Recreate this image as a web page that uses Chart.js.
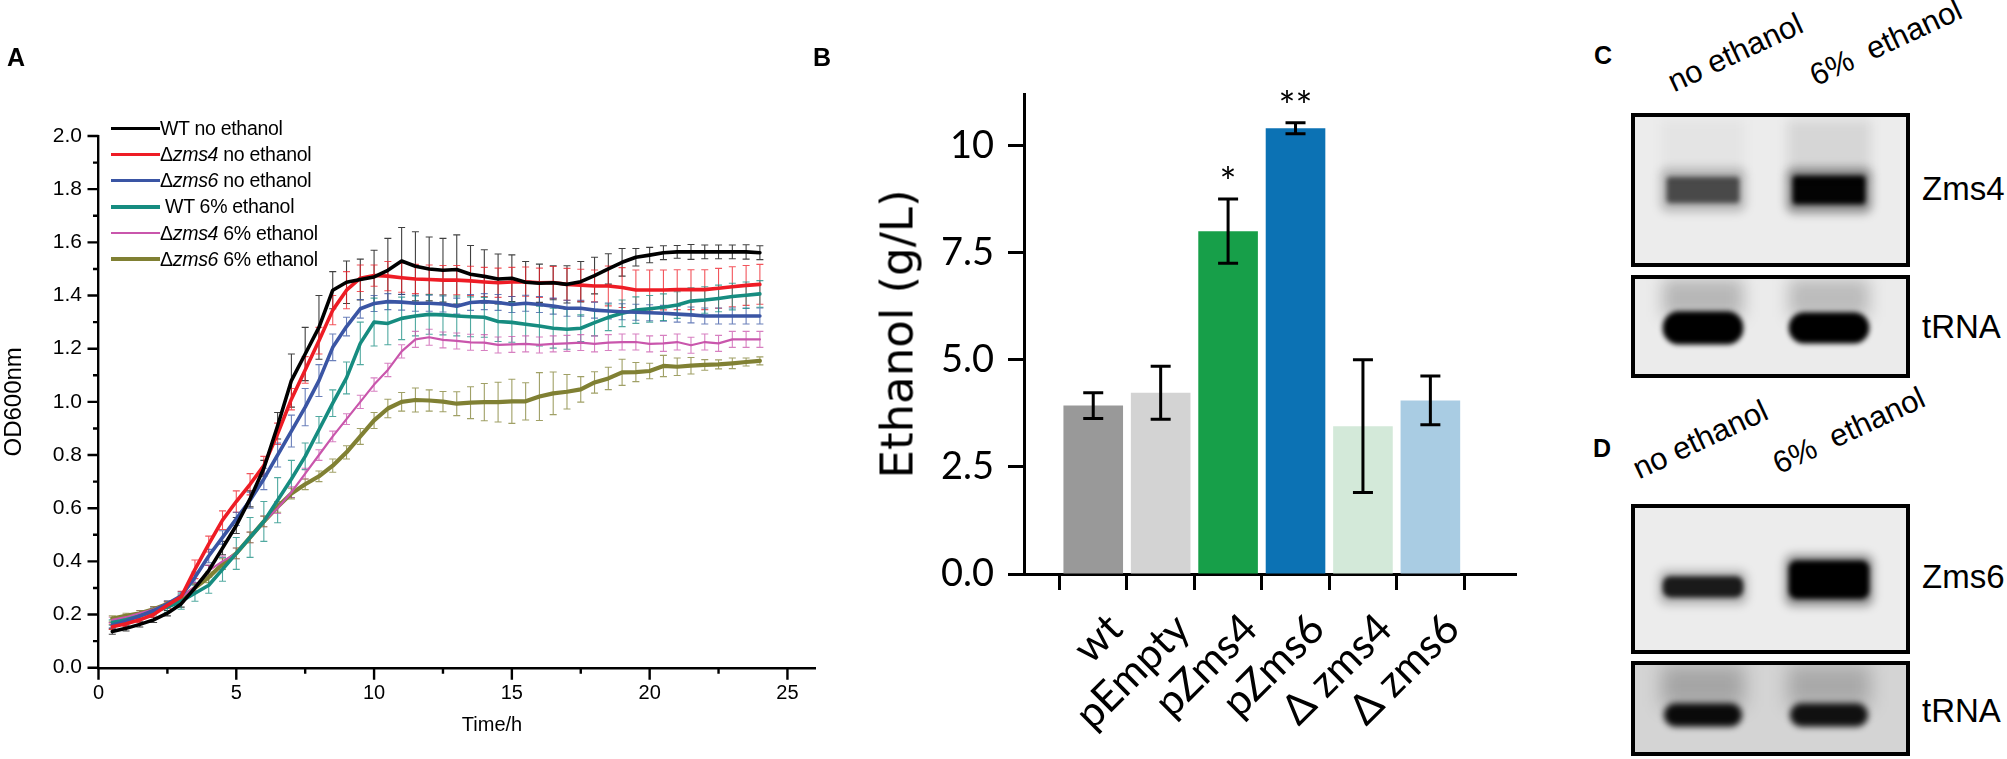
<!DOCTYPE html>
<html>
<head>
<meta charset="utf-8">
<title>Growth curves, ethanol production and blots</title>
<script src="https://cdn.jsdelivr.net/npm/chart.js@4.4.1/dist/chart.umd.min.js"></script>
<style>
  html, body { margin:0; padding:0; background:#fff; }
  body { width:2007px; height:759px; position:relative; overflow:hidden; font-family:"Liberation Sans", Arial, sans-serif; color:#000; }
  canvas { position:absolute; display:block; }
  .panel-letter { position:absolute; font-weight:bold; font-size:25px; line-height:1; transform:translate(-50%,-50%); }
  .legend-row { position:absolute; left:111px; height:26px; display:flex; align-items:center; font-size:19.5px; white-space:pre; letter-spacing:-0.3px; transform:translateY(-50%); }
  .legend-row .swatch { display:inline-block; width:49px; }
  .axis-title { position:absolute; font-size:20px; line-height:1; transform:translate(-50%,-50%); white-space:pre; }
  .axis-title-b { position:absolute; font-family:"DejaVu Sans", "Liberation Sans", sans-serif; font-size:45px; line-height:1; white-space:pre; transform:translate(-50%,-50%) rotate(-90deg); }
  .blot { position:absolute; border:4px solid #000; box-sizing:border-box; overflow:hidden; }
  .blot canvas { position:static; }
  .lane-label { position:absolute; width:0; height:0; }
  .lane-label span { position:absolute; left:0; bottom:0; transform-origin:0 100%; transform:rotate(-25deg); font-size:31px; line-height:1; white-space:pre; }
  .blot-name { position:absolute; font-size:33px; line-height:1; transform:translateY(-50%); }
</style>
</head>
<body>
<canvas id="chartA" width="840" height="759" style="left:0;top:0;width:840px;height:759px"></canvas>
<canvas id="chartB" width="720" height="759" style="left:840px;top:0;width:720px;height:759px"></canvas>

<div class="panel-letter" style="left:16px;top:57px">A</div>
<div class="panel-letter" style="left:822px;top:57px">B</div>
<div class="panel-letter" style="left:1603px;top:55px">C</div>
<div class="panel-letter" style="left:1602px;top:448px">D</div>
<div id="legendA"></div>
<div class="axis-title" style="left:492px;top:724px">Time/h</div>
<div class="axis-title-b" style="left:897px;top:334px">Ethanol (g/L)</div>

<div class="lane-label" style="left:1676px;top:97px"><span>no ethanol</span></div>
<div class="lane-label" style="left:1818px;top:91px"><span>6%  ethanol</span></div>
<div class="lane-label" style="left:1641px;top:484px"><span>no ethanol</span></div>
<div class="lane-label" style="left:1781px;top:479px"><span>6%  ethanol</span></div>

<div class="blot" style="left:1631px;top:113px;width:279px;height:154px"><canvas id="blotZms4" width="271" height="146" style="width:271px;height:146px"></canvas></div>
<div class="blot" style="left:1631px;top:275px;width:279px;height:103px"><canvas id="blotTrnaC" width="271" height="95" style="width:271px;height:95px"></canvas></div>
<div class="blot" style="left:1631px;top:504px;width:279px;height:150px"><canvas id="blotZms6" width="271" height="142" style="width:271px;height:142px"></canvas></div>
<div class="blot" style="left:1631px;top:661px;width:279px;height:95px"><canvas id="blotTrnaD" width="271" height="87" style="width:271px;height:87px"></canvas></div>

<div class="blot-name" style="left:1922px;top:188px">Zms4</div>
<div class="blot-name" style="left:1922px;top:326px">tRNA</div>
<div class="blot-name" style="left:1922px;top:576px">Zms6</div>
<div class="blot-name" style="left:1922px;top:710px">tRNA</div>

<script>
// ---------------- Panel A data ----------------
const timeH = [0.5,1.0,1.5,2.0,2.5,3.0,3.5,4.0,4.5,5.0,5.5,6.0,6.5,7.0,7.5,8.0,8.5,9.0,9.5,10.0,10.5,11.0,11.5,12.0,
               12.5,13.0,13.5,14.0,14.5,15.0,15.5,16.0,16.5,17.0,17.5,18.0,18.5,19.0,19.5,20.0,20.5,21.0,21.5,22.0,22.5,23.0,23.5,24.0];
const xMajorTicks = [0,5,10,15,20,25];
const xMinorTicks = [2.5,7.5,12.5,17.5,22.5];
const yMajorTicks = [0.0,0.2,0.4,0.6,0.8,1.0,1.2,1.4,1.6,1.8,2.0];
const yMinorTicks = [0.1,0.3,0.5,0.7,0.9,1.1,1.3,1.5,1.7,1.9];

const seriesLabels = ['WT no ethanol','\u0394zms4 no ethanol','\u0394zms6 no ethanol',' WT 6% ethanol','\u0394zms4 6% ethanol','\u0394zms6 6% ethanol'];
const seriesItalic = ['','zms4','zms6','','zms4','zms6'];
const seriesColors = ['#000000','#ee1c25','#3a55a4','#168c80','#c956ac','#808033'];

const wtNoEthanol = [0.136,0.148,0.163,0.180,0.205,0.240,0.300,0.365,0.450,0.535,0.635,0.750,0.910,1.080,1.180,1.280,1.420,1.450,1.460,1.470,1.495,1.530,1.510,1.500,
                     1.495,1.498,1.480,1.472,1.462,1.465,1.450,1.446,1.448,1.442,1.452,1.475,1.500,1.525,1.544,1.552,1.561,1.564,1.564,1.564,1.564,1.564,1.564,1.561];
const wtNoEthanolErr = [0.010,0.010,0.010,0.010,0.010,0.012,0.015,0.020,0.025,0.030,0.030,0.030,0.050,0.100,0.100,0.120,0.070,0.080,0.077,0.100,0.120,0.126,0.130,0.120,
                        0.120,0.130,0.108,0.100,0.094,0.088,0.078,0.072,0.064,0.070,0.076,0.069,0.057,0.052,0.033,0.029,0.026,0.024,0.028,0.026,0.026,0.026,0.027,0.026];

const zms4NoEthanol = [0.154,0.165,0.180,0.200,0.235,0.267,0.370,0.465,0.555,0.625,0.690,0.760,0.880,1.010,1.120,1.230,1.345,1.420,1.465,1.475,1.473,1.467,1.462,1.460,
                       1.458,1.458,1.455,1.451,1.448,1.451,1.452,1.448,1.449,1.442,1.439,1.436,1.436,1.430,1.421,1.421,1.421,1.422,1.422,1.422,1.427,1.433,1.438,1.442];
const zms4NoEthanolErr = [0.010,0.010,0.010,0.010,0.012,0.020,0.035,0.030,0.035,0.040,0.040,0.035,0.040,0.040,0.050,0.050,0.055,0.070,0.050,0.040,0.055,0.055,0.055,0.055,
                          0.055,0.055,0.055,0.055,0.055,0.055,0.055,0.055,0.060,0.060,0.060,0.060,0.075,0.075,0.075,0.075,0.075,0.075,0.075,0.075,0.075,0.075,0.075,0.075];

const zms6NoEthanol = [0.160,0.175,0.195,0.215,0.240,0.270,0.340,0.420,0.490,0.560,0.630,0.710,0.800,0.890,0.980,1.080,1.205,1.283,1.350,1.370,1.377,1.375,1.371,1.371,
                       1.368,1.360,1.374,1.377,1.374,1.366,1.371,1.366,1.360,1.352,1.352,1.345,1.342,1.339,1.337,1.335,1.333,1.330,1.327,1.323,1.323,1.323,1.323,1.323];
const zms6NoEthanolErr = [0.010,0.010,0.010,0.010,0.012,0.015,0.020,0.025,0.025,0.025,0.030,0.040,0.045,0.060,0.070,0.060,0.050,0.035,0.035,0.030,0.030,0.030,0.030,0.030,
                          0.030,0.030,0.030,0.030,0.030,0.030,0.030,0.030,0.030,0.030,0.030,0.030,0.030,0.030,0.030,0.030,0.030,0.030,0.030,0.030,0.030,0.030,0.030,0.030];

const wt6Ethanol = [0.170,0.180,0.195,0.210,0.228,0.250,0.280,0.310,0.370,0.430,0.490,0.550,0.630,0.710,0.795,0.895,0.995,1.090,1.220,1.300,1.295,1.314,1.323,1.329,
                    1.327,1.323,1.320,1.318,1.302,1.299,1.292,1.285,1.277,1.273,1.277,1.298,1.318,1.333,1.345,1.350,1.356,1.364,1.379,1.383,1.389,1.396,1.401,1.406];
const wt6EthanolErr = [0.010,0.010,0.010,0.012,0.020,0.030,0.030,0.030,0.045,0.060,0.075,0.075,0.085,0.070,0.050,0.050,0.050,0.060,0.080,0.090,0.080,0.080,0.075,0.075,
                       0.075,0.075,0.075,0.075,0.075,0.075,0.075,0.075,0.075,0.075,0.050,0.050,0.050,0.050,0.050,0.050,0.050,0.050,0.050,0.050,0.050,0.050,0.050,0.050];

const zms46Ethanol = [0.180,0.190,0.205,0.220,0.240,0.265,0.305,0.365,0.400,0.430,0.490,0.550,0.600,0.660,0.730,0.800,0.870,0.935,1.000,1.065,1.120,1.190,1.235,1.243,
                      1.233,1.229,1.224,1.223,1.214,1.216,1.218,1.214,1.218,1.220,1.223,1.218,1.223,1.225,1.225,1.218,1.220,1.225,1.213,1.225,1.220,1.235,1.235,1.235];
const zms46EthanolErr = [0.010,0.010,0.010,0.010,0.010,0.010,0.015,0.020,0.020,0.020,0.020,0.020,0.020,0.020,0.020,0.020,0.020,0.020,0.025,0.025,0.025,0.025,0.030,0.030,
                         0.030,0.030,0.030,0.030,0.030,0.030,0.030,0.030,0.030,0.030,0.030,0.030,0.030,0.030,0.030,0.030,0.030,0.030,0.030,0.030,0.030,0.030,0.030,0.030];

const zms66Ethanol = [0.185,0.195,0.205,0.220,0.240,0.262,0.300,0.340,0.390,0.430,0.490,0.550,0.605,0.655,0.690,0.720,0.760,0.810,0.870,0.930,0.975,1.000,1.007,1.005,
                      1.001,0.993,0.997,0.999,0.999,1.002,1.002,1.020,1.032,1.038,1.047,1.073,1.088,1.111,1.112,1.116,1.135,1.132,1.136,1.139,1.141,1.145,1.150,1.154];
const zms66EthanolErr = [0.010,0.010,0.010,0.010,0.010,0.010,0.015,0.020,0.020,0.020,0.020,0.020,0.020,0.020,0.020,0.020,0.025,0.025,0.030,0.030,0.035,0.035,0.045,0.040,
                         0.038,0.045,0.060,0.070,0.075,0.083,0.070,0.090,0.080,0.065,0.048,0.040,0.042,0.049,0.036,0.029,0.040,0.033,0.031,0.020,0.017,0.020,0.015,0.015];

const seriesValues = [wtNoEthanol, zms4NoEthanol, zms6NoEthanol, wt6Ethanol, zms46Ethanol, zms66Ethanol];
const seriesErrors = [wtNoEthanolErr, zms4NoEthanolErr, zms6NoEthanolErr, wt6EthanolErr, zms46EthanolErr, zms66EthanolErr];
const seriesWidths = [3.6, 3.6, 3.6, 3.6, 2.2, 4.2];

// ---------------- Panel B data ----------------
const strains = ['wt','pEmpty','pZms4','pZms6','\u0394 zms4','\u0394 zms6'];
const ethanolMean = [3.93, 4.23, 8.00, 10.40, 3.45, 4.05];
const ethanolErr = [0.30, 0.62, 0.75, 0.13, 1.55, 0.57];
const significance = ['', '', '*', '**', '', ''];
const ethanolTicks = [0, 2.5, 5.0, 7.5, 10];
const barColors = ['#999999','#d3d3d3','#179f49','#0c72b4','#d3e9d9','#a9cce3'];

// ---------------- Panels C / D data (band extent as fraction of membrane height; darkness 0..1) ----------------
const blotLanes = ['no ethanol', '6% ethanol'];
const zms4SmearTop = [0.02, 0.02], zms4SmearBottom = [0.40, 0.40], zms4SmearDark = [0.03, 0.09];
const zms4HaloTop = [0.35, 0.35], zms4HaloBottom = [0.65, 0.66], zms4HaloDark = [0.22, 0.40];
const zms4BandTop = [0.41, 0.40], zms4BandBottom = [0.59, 0.60], zms4BandDark = [0.60, 0.98];
const trnaCSmearTop = [0.00, 0.00], trnaCSmearBottom = [0.40, 0.40], trnaCSmearDark = [0.22, 0.20];
const trnaCBandTop = [0.34, 0.35], trnaCBandBottom = [0.69, 0.68], trnaCBandDark = [1.00, 1.00];
const zms6HaloTop = [0.44, 0.33], zms6HaloBottom = [0.68, 0.69], zms6HaloDark = [0.25, 0.40];
const zms6BandTop = [0.48, 0.37], zms6BandBottom = [0.63, 0.64], zms6BandDark = [0.85, 1.00];
const trnaDSmearTop = [0.00, 0.00], trnaDSmearBottom = [0.48, 0.48], trnaDSmearDark = [0.22, 0.20];
const trnaDBandTop = [0.44, 0.44], trnaDBandBottom = [0.71, 0.71], trnaDBandDark = [0.95, 0.92];

Chart.defaults.font.family = '"Liberation Sans", Arial, sans-serif';
Chart.defaults.color = '#000';
const fontB = 'Lato, "Liberation Sans", sans-serif';

// ---------------- Legend A (HTML, mixed italic) ----------------
const legendRowsY = [128.3, 154.5, 180.7, 206.9, 233.1, 259.3];
const legendBox = document.getElementById('legendA');
seriesLabels.forEach((lab, i) => {
  const row = document.createElement('div');
  row.className = 'legend-row';
  row.style.top = legendRowsY[i] + 'px';
  const sw = document.createElement('span');
  sw.className = 'swatch';
  sw.style.height = seriesWidths[i] + 'px';
  sw.style.background = seriesColors[i];
  row.appendChild(sw);
  const txt = document.createElement('span');
  const it = seriesItalic[i];
  if (it) {
    const k = lab.indexOf(it);
    txt.appendChild(document.createTextNode(lab.slice(0, k)));
    const em = document.createElement('i'); em.textContent = it; txt.appendChild(em);
    txt.appendChild(document.createTextNode(lab.slice(k + it.length)));
  } else {
    txt.textContent = lab;
  }
  row.appendChild(txt);
  legendBox.appendChild(row);
});

function withAlpha(hex, a) {
  const n = parseInt(hex.slice(1), 16);
  return `rgba(${(n >> 16) & 255},${(n >> 8) & 255},${n & 255},${a})`;
}

// Error bars for line chart
const lineErrorBars = {
  id: 'lineErrorBars',
  beforeDatasetsDraw(chart) {
    const {ctx} = chart; const ys = chart.scales.y;
    ctx.save();
    ctx.lineWidth = 1.1;
    chart.data.datasets.forEach((ds, di) => {
      const meta = chart.getDatasetMeta(di);
      ctx.strokeStyle = withAlpha(ds.borderColor, 0.75);
      meta.data.forEach((pt, i) => {
        const v = ds.data[i].y, e = ds.errors[i];
        const yt = ys.getPixelForValue(v + e), yb = ys.getPixelForValue(v - e);
        ctx.beginPath();
        ctx.moveTo(pt.x, yt); ctx.lineTo(pt.x, yb);
        ctx.moveTo(pt.x - 3.5, yt); ctx.lineTo(pt.x + 3.5, yt);
        ctx.moveTo(pt.x - 3.5, yb); ctx.lineTo(pt.x + 3.5, yb);
        ctx.stroke();
      });
    });
    ctx.restore();
  }
};

// Major/minor tick marks for panel A
const axisTicksA = {
  id: 'axisTicksA',
  afterDraw(chart) {
    const {ctx, chartArea} = chart; const xs = chart.scales.x, ys = chart.scales.y;
    ctx.save(); ctx.strokeStyle = '#000'; ctx.lineWidth = 2.4;
    ctx.beginPath();
    xMajorTicks.forEach(v => { const x = xs.getPixelForValue(v); ctx.moveTo(x, chartArea.bottom); ctx.lineTo(x, chartArea.bottom + 12); });
    xMinorTicks.forEach(v => { const x = xs.getPixelForValue(v); ctx.moveTo(x, chartArea.bottom); ctx.lineTo(x, chartArea.bottom + 6); });
    yMajorTicks.forEach(v => { const y = ys.getPixelForValue(v); ctx.moveTo(chartArea.left, y); ctx.lineTo(chartArea.left - 11, y); });
    yMinorTicks.forEach(v => { const y = ys.getPixelForValue(v); ctx.moveTo(chartArea.left, y); ctx.lineTo(chartArea.left - 5.5, y); });
    ctx.stroke(); ctx.restore();
  }
};

new Chart(document.getElementById('chartA'), {
  type: 'line',
  data: {
    datasets: seriesValues.map((vals, i) => ({
      label: seriesLabels[i],
      data: timeH.map((t, k) => ({x: t, y: vals[k]})),
      errors: seriesErrors[i],
      borderColor: seriesColors[i],
      borderWidth: seriesWidths[i],
      pointRadius: 0,
      tension: 0,
      fill: false,
      borderJoinStyle: 'round',
      borderCapStyle: 'round'
    }))
  },
  options: {
    responsive: false, animation: false, devicePixelRatio: 1,
    layout: {padding: {top: 136, right: 25, left: 0, bottom: 0}},
    plugins: {legend: {display: false}, tooltip: {enabled: false}},
    scales: {
      x: {
        type: 'linear', min: 0, max: 26,
        afterFit(s) { s.height = 91.3; },
        afterBuildTicks(s) { s.ticks = xMajorTicks.map(v => ({value: v})); },
        grid: {display: false, drawTicks: false},
        border: {display: true, color: '#000', width: 2.4},
        ticks: {font: {size: 20}, padding: 14, maxRotation: 0, autoSkip: false}
      },
      y: {
        min: 0, max: 2,
        afterFit(s) { s.width = 98.5; },
        afterBuildTicks(s) { s.ticks = yMajorTicks.map(v => ({value: v})); },
        grid: {display: false, drawTicks: false},
        border: {display: true, color: '#000', width: 2.4},
        ticks: {font: {size: 21}, padding: 16.5, callback: v => Number(v).toFixed(1)},
        title: {display: true, text: 'OD600nm', font: {size: 24}, padding: {top: 0, bottom: 0}}
      }
    }
  },
  plugins: [lineErrorBars, axisTicksA]
});

// ---------------- Panel B ----------------
const barErrors = {
  id: 'barErrors',
  afterDatasetsDraw(chart) {
    const {ctx} = chart; const ys = chart.scales.y; const meta = chart.getDatasetMeta(0);
    ctx.save(); ctx.strokeStyle = '#000'; ctx.fillStyle = '#000'; ctx.lineWidth = 3;
    meta.data.forEach((bar, i) => {
      const v = ethanolMean[i], e = ethanolErr[i];
      const yt = ys.getPixelForValue(v + e), yb = ys.getPixelForValue(v - e);
      ctx.beginPath();
      ctx.moveTo(bar.x, yt); ctx.lineTo(bar.x, yb);
      ctx.moveTo(bar.x - 10, yt); ctx.lineTo(bar.x + 10, yt);
      ctx.moveTo(bar.x - 10, yb); ctx.lineTo(bar.x + 10, yb);
      ctx.stroke();
      if (significance[i]) {
        ctx.font = '40px ' + fontB;
        ctx.textAlign = 'center'; ctx.textBaseline = 'alphabetic';
        ctx.fillText(significance[i], bar.x, yt - 2);
      }
    });
    ctx.restore();
  }
};

new Chart(document.getElementById('chartB'), {
  type: 'bar',
  data: {
    datasets: [{
      label: 'Ethanol (g/L)',
      data: strains.map((s, i) => ({x: i, y: ethanolMean[i]})),
      backgroundColor: barColors,
      barPercentage: 0.884,
      categoryPercentage: 1.0
    }]
  },
  options: {
    responsive: false, animation: false, devicePixelRatio: 1,
    layout: {padding: {top: 94, right: 43.4, left: 0, bottom: 0}},
    plugins: {legend: {display: false}, tooltip: {enabled: false}},
    scales: {
      x: {
        type: 'linear', min: -0.418, max: 5.67,
        afterFit(s) { s.height = 185; },
        afterBuildTicks(s) { s.ticks = strains.map((c, i) => ({value: i})); },
        grid: {display: true, drawOnChartArea: false, drawTicks: true, tickLength: 16, tickWidth: 3, tickColor: '#000'},
        border: {display: true, color: '#000', width: 3},
        ticks: {font: {family: fontB, size: 42}, padding: 14, labelOffset: 22, minRotation: 45, maxRotation: 45, autoSkip: false,
                callback: v => strains[v]}
      },
      y: {
        min: 0, max: 11.2,
        afterFit(s) { s.width = 184; },
        afterBuildTicks(s) { s.ticks = ethanolTicks.map(v => ({value: v})); },
        grid: {display: true, drawOnChartArea: false, drawTicks: true, tickLength: 16, tickWidth: 3, tickColor: '#000'},
        border: {display: true, color: '#000', width: 3},
        ticks: {font: {family: fontB, size: 38}, padding: 14,
                callback: v => (v === 10 ? '10' : Number(v).toFixed(1))}
      }
    }
  },
  plugins: [barErrors]
});

// ---------------- Panels C / D (blots) ----------------
const blotLook = {
  id: 'blotLook',
  beforeDraw(chart, args, opts) {
    const {ctx, width, height} = chart;
    ctx.save(); ctx.fillStyle = opts.bg; ctx.fillRect(0, 0, width, height); ctx.restore();
  },
  beforeDatasetDraw(chart, args) {
    chart.ctx.filter = 'blur(' + chart.data.datasets[args.index].blurPx + 'px)';
  },
  afterDatasetDraw(chart) {
    chart.ctx.filter = 'none';
  }
};

function layer(top, bottom, dark, width, blurPx, radius) {
  return {
    data: blotLanes.map((l, i) => [top[i], bottom[i]]),
    backgroundColor: dark.map(d => `rgba(0,0,0,${d})`),
    barPercentage: width, categoryPercentage: 1, grouped: false,
    borderSkipped: false, borderRadius: radius, blurPx: blurPx
  };
}

function makeBlot(id, bg, layers) {
  new Chart(document.getElementById(id), {
    type: 'bar',
    data: {labels: blotLanes, datasets: layers},
    options: {
      responsive: false, animation: false, devicePixelRatio: 1,
      layout: {padding: {left: 5, right: 14, top: 0, bottom: 0}},
      plugins: {legend: {display: false}, tooltip: {enabled: false}, blotLook: {bg: bg}},
      scales: {x: {display: false, offset: true}, y: {display: false, min: 0, max: 1, reverse: true}}
    },
    plugins: [blotLook]
  });
}

makeBlot('blotZms4', '#ececec', [
  layer(zms4SmearTop, zms4SmearBottom, zms4SmearDark, 0.66, 6, 0),
  layer(zms4HaloTop, zms4HaloBottom, zms4HaloDark, 0.68, 5, 8),
  layer(zms4BandTop, zms4BandBottom, zms4BandDark, 0.58, 2.5, 4)
]);
makeBlot('blotTrnaC', '#ebebeb', [
  layer(trnaCSmearTop, trnaCSmearBottom, trnaCSmearDark, 0.64, 8, 0),
  layer(trnaCBandTop, trnaCBandBottom, trnaCBandDark, 0.64, 2.5, 16)
]);
makeBlot('blotZms6', '#ececec', [
  layer(zms6HaloTop, zms6HaloBottom, zms6HaloDark, 0.70, 5, 8),
  layer(zms6BandTop, zms6BandBottom, zms6BandDark, 0.64, 2.5, 8)
]);
makeBlot('blotTrnaD', '#d4d4d4', [
  layer(trnaDSmearTop, trnaDSmearBottom, trnaDSmearDark, 0.66, 9, 0),
  layer(trnaDBandTop, trnaDBandBottom, trnaDBandDark, 0.62, 3, 12)
]);
</script>
</body>
</html>
